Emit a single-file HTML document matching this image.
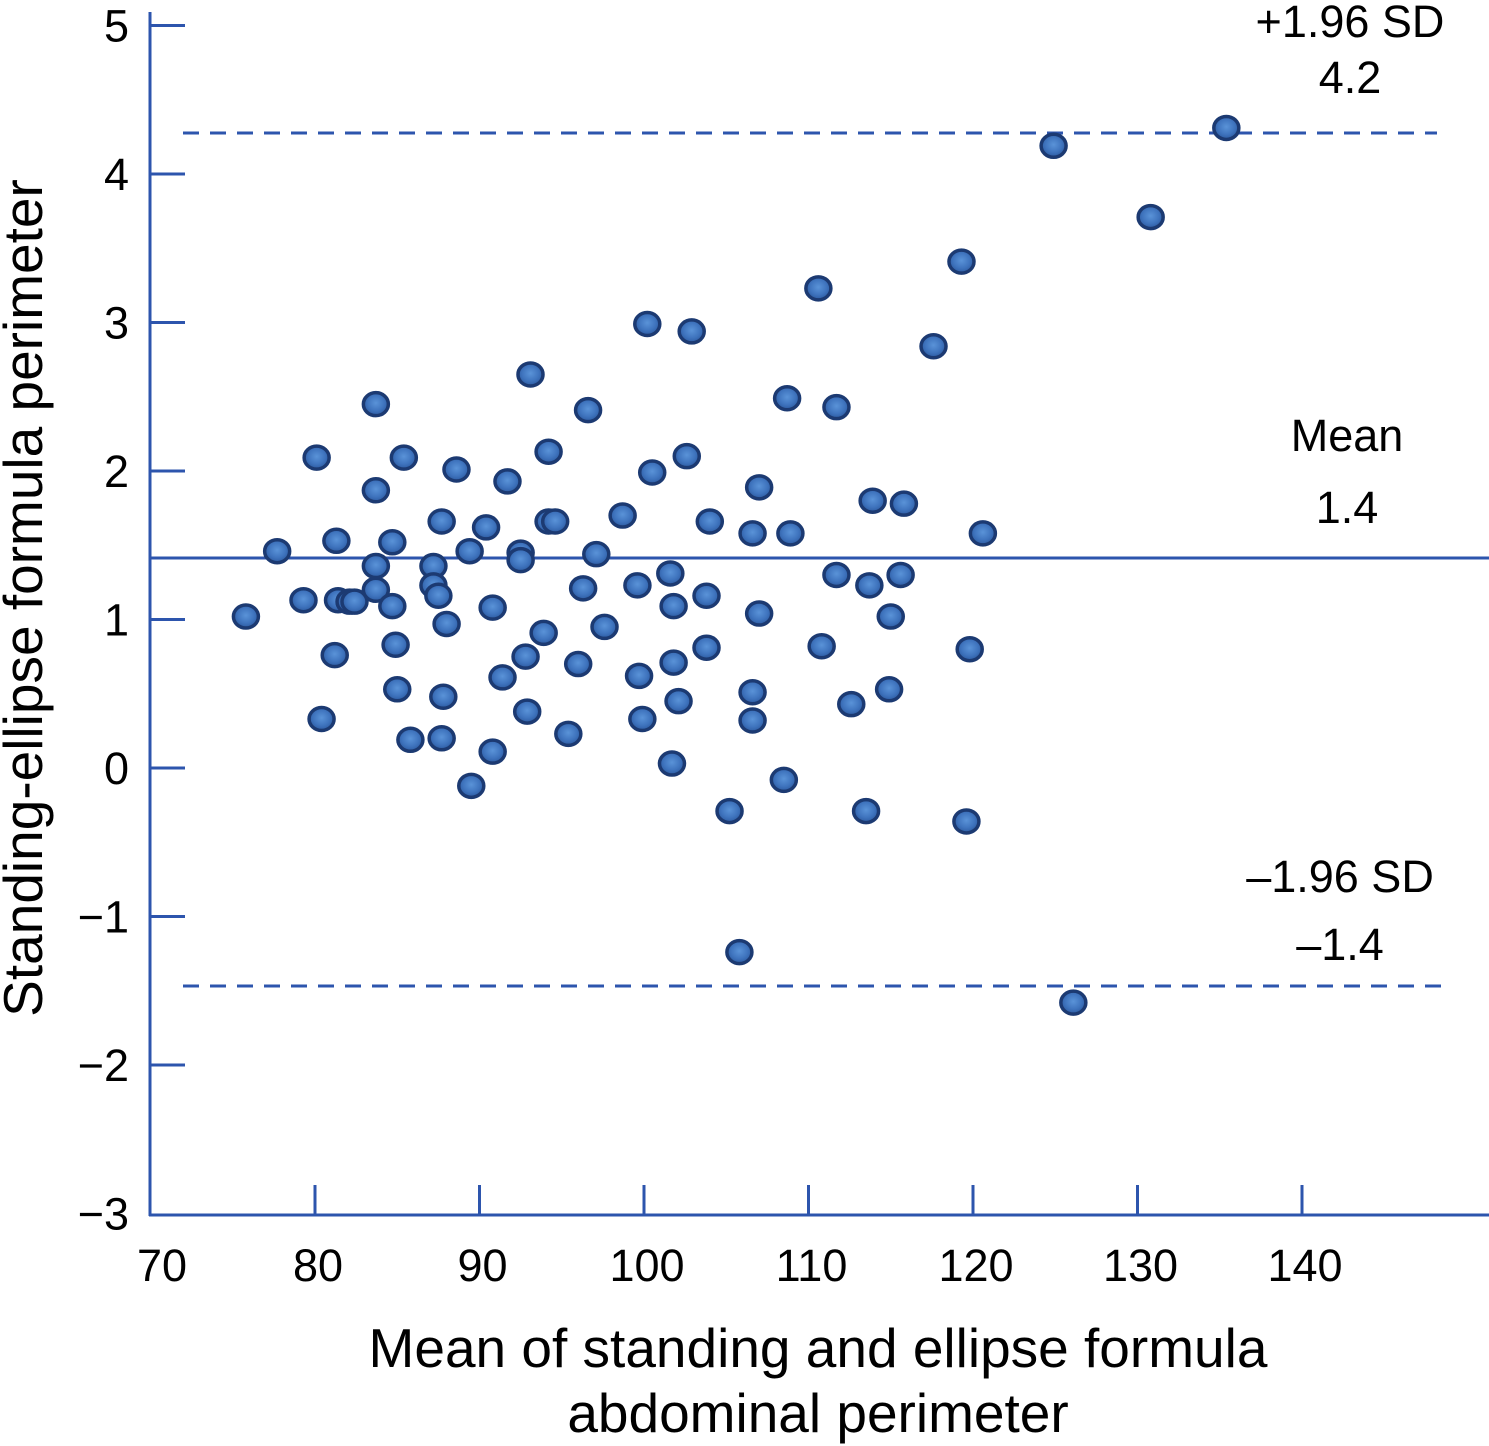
<!DOCTYPE html>
<html><head><meta charset="utf-8"><style>
html,body{margin:0;padding:0;background:#fff;}
svg{display:block;font-family:"Liberation Sans",Arial,sans-serif;}
</style></head><body>
<svg id="chart" width="1489" height="1446" viewBox="0 0 1489 1446" xmlns="http://www.w3.org/2000/svg">
<defs>
<radialGradient id="dotg" cx="50%" cy="45%" r="55%">
<stop offset="0%" stop-color="#5a93d8"/><stop offset="60%" stop-color="#3f74be"/><stop offset="100%" stop-color="#2c5aa0"/>
</radialGradient>
</defs>
<g id="axes"></g>
<g id="lines"></g>
<g id="points"></g>
<g id="labels"></g>
</svg>
<script>
const xTicks=[70,80,90,100,110,120,130,140];
const yTicks=[5,4,3,2,1,0,-1,-2,-3];
const meanDiff=1.414;
const upperLoA=4.276;
const lowerLoA=-1.468;
const xVals=[75.8,77.7,79.3,80.1,81.3,81.4,82.1,82.4,81.2,80.4,83.7,83.7,83.7,83.7,84.7,84.7,84.9,85.0,85.4,85.8,87.2,87.2,87.5,87.7,88.0,87.8,87.7,88.6,89.4,89.5,90.4,90.8,90.8,91.4,91.7,92.5,92.5,92.8,92.9,93.1,93.9,94.2,94.2,94.6,95.4,96.0,96.3,96.6,97.1,97.6,98.7,99.6,99.7,99.9,100.2,100.5,101.6,101.8,101.8,101.7,102.1,102.6,102.9,103.8,103.8,104.0,105.2,105.8,106.6,106.6,106.6,107.0,107.0,108.5,108.7,108.9,110.6,110.8,111.7,111.7,112.6,113.5,113.7,113.9,114.9,115.0,115.6,115.8,117.6,119.3,119.6,119.8,120.6,124.9,126.1,130.8,135.4];
const yVals=[1.02,1.46,1.13,2.09,1.53,1.13,1.12,1.12,0.76,0.33,2.45,1.87,1.36,1.20,1.52,1.09,0.83,0.53,2.09,0.19,1.36,1.23,1.16,1.66,0.97,0.48,0.20,2.01,1.46,-0.12,1.62,1.08,0.11,0.61,1.93,1.45,1.40,0.75,0.38,2.65,0.91,2.13,1.66,1.66,0.23,0.70,1.21,2.41,1.44,0.95,1.70,1.23,0.62,0.33,2.99,1.99,1.31,0.71,1.09,0.03,0.45,2.10,2.94,1.16,0.81,1.66,-0.29,-1.24,1.58,0.51,0.32,1.04,1.89,-0.08,2.49,1.58,3.23,0.82,1.30,2.43,0.43,-0.29,1.23,1.80,0.53,1.02,1.30,1.78,2.84,3.41,-0.36,0.80,1.58,4.19,-1.58,3.71,4.31];

const NS="http://www.w3.org/2000/svg";
const AX="#2d55ad";
function X(v){return 315+16.45*(v-80);}
function Y(v){return 768-148.5*v;}
function mk(tag,attrs,parent,text){const e=document.createElementNS(NS,tag);for(const k in attrs)e.setAttribute(k,attrs[k]);if(text!==undefined)e.textContent=text;parent.appendChild(e);return e;}
const axes=document.getElementById('axes'),lines=document.getElementById('lines'),pts=document.getElementById('points'),labels=document.getElementById('labels');

let e=mk('line',{x1:150,y1:12,x2:150,y2:1216,stroke:AX,'stroke-width':3},axes);


e=mk('line',{x1:149,y1:1215,x2:1489,y2:1215,stroke:AX,'stroke-width':3},axes);



yTicks.forEach(t=>{
  const y=Y(t);
  if(t>-3){const l=mk('line',{x1:150,y1:y,x2:185,y2:y,stroke:AX,'stroke-width':3},axes);
  
  }
  const s=mk('text',{x:129,y:y+16,'text-anchor':'end','font-size':45,fill:'#000'},labels,t<0?'\u2212'+Math.abs(t):String(t));
  
  
});
xTicks.forEach(t=>{
  const x=X(t);
  if(t>70){const l=mk('line',{x1:x,y1:1185,x2:x,y2:1215,stroke:AX,'stroke-width':3},axes);
  
  }
  const s=mk('text',{x:t===70?162:x+3,y:1281,'text-anchor':'middle','font-size':45,fill:'#000'},labels,String(t));
  
  
});

e=mk('line',{x1:150,y1:Y(meanDiff),x2:1489,y2:Y(meanDiff),stroke:AX,'stroke-width':3},lines);


e=mk('line',{x1:183,y1:Y(upperLoA),x2:1437,y2:Y(upperLoA),stroke:AX,'stroke-width':3,'stroke-dasharray':'16,11'},lines);


e=mk('line',{x1:183,y1:Y(lowerLoA),x2:1452,y2:Y(lowerLoA),stroke:AX,'stroke-width':3,'stroke-dasharray':'16,11'},lines);



xVals.forEach((v,i)=>{
  const c=mk('ellipse',{cx:X(v),cy:Y(yVals[i]),rx:12.5,ry:11.5,fill:'url(#dotg)',stroke:'#1c3a72','stroke-width':3.5},pts);
  
  
});

const ann=[['+1.96 SD',1350,37,'upper-limit-label'],['4.2',1350,93,'upper-limit-value'],['Mean',1347,451,'mean-label'],['1.4',1347,523,'mean-value'],['\u20131.96 SD',1340,892,'lower-limit-label'],['\u20131.4',1340,960,'lower-limit-value']];
ann.forEach(a=>{
  const s=mk('text',{x:a[1],y:a[2],'text-anchor':'middle','font-size':45,fill:'#000'},labels,a[0]);
  
  
});
e=mk('text',{x:818,y:1367,'text-anchor':'middle','font-size':55,fill:'#000'},labels,'Mean of standing and ellipse formula');


e=mk('text',{x:818,y:1432,'text-anchor':'middle','font-size':55,fill:'#000'},labels,'abdominal perimeter');


e=mk('text',{x:0,y:0,'text-anchor':'middle','font-size':55,fill:'#000',transform:'translate(42,598) rotate(-90)'},labels,'Standing-ellipse formula perimeter');


</script>
</body></html>
